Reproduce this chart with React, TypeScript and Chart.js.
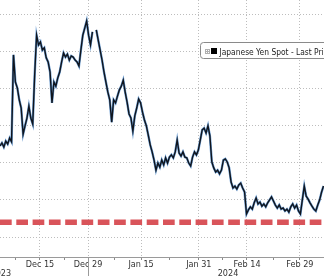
import React, { useEffect, useRef } from 'react';
import { Chart, registerables } from 'chart.js';

Chart.register(...registerables);

const FONT = "'Liberation Sans Narrow', 'DejaVu Sans Condensed', 'Liberation Sans', Arial, sans-serif";

// x axis: trading-day index (weekdays), Dec 1 2023 = 0
const labelDays = [10, 20, 31, 43, 53, 64];
const labelTexts = ['Dec 15', 'Dec 29', 'Jan 15', 'Jan 31', 'Feb 14', 'Feb 29'];
const minorDays = [5, 15, 25.5, 37, 48, 58.5];
const yearTexts = ['2023', '2024'];
const yearCenterDays = [1.87, 49.06];
const yearBreakDay = 20;
const xRange = [1.7, 69.0];

// y axis: yen value in USD x 10000 (gridlines every 1.0)
const yRange = [65.462, 72.377];
const yGridStep = 1;

// sampled series (one reading every 0.4 trading day)
const sampleStart = 1.7;
const sampleStep = 0.4;
const yenSpot: (number | null)[] = [
  68.45, 68.53, 68.42, 68.58, 68.50, 68.66, 68.56, 70.90, 70.17, 70.01,
  69.69, 69.47, 68.77, 68.99, 69.20, 69.52, 69.20, 69.04, 70.36, 71.43,
  71.17, 71.25, 71.03, 71.09, 70.82, 70.71, 70.44, 69.61, 70.17, 70.06,
  70.28, 70.44, 70.71, 70.95, 70.84, 70.92, 70.76, 70.87, 70.84, 70.76,
  70.71, 70.60, 71.03, 71.43, 71.62, 71.81, 71.43, 71.17, 71.52, null,
  71.57, 71.30, 71.03, 70.76, 70.44, 70.17, 69.90, 69.69, 69.09, 69.69,
  69.61, 69.79, 69.96, 70.06, 70.22, 69.90, 69.63, 69.31, 69.20, 68.85,
  69.26, 69.47, 69.71, 69.61, 69.36, 69.15, 68.99, 68.74, 68.48, 68.29,
  68.07, 67.80, 67.99, 67.88, 68.07, 67.94, 68.13, 67.99, 68.15, 68.21,
  68.13, 68.29, 68.61, 68.26, 68.18, 68.29, 68.15, 68.13, 67.99, 67.91,
  68.15, 68.29, 68.21, 68.34, 68.61, 68.88, 68.93, 68.80, 68.99, 68.72,
  68.02, 67.86, 67.75, 67.80, 67.70, 67.80, 68.07, 68.10, 68.02, 67.86,
  67.48, 67.32, 67.37, 67.29, 67.40, 67.45, 67.32, 67.21, 66.62, 66.73,
  66.81, 66.75, 66.92, 67.05, 66.89, 66.94, 66.83, 66.89, 66.81, 66.92,
  67.00, 67.08, 66.97, 66.86, 66.78, 66.86, 66.75, 66.78, 66.70, 66.75,
  66.67, 66.81, 66.89, 66.78, 66.86, 66.70, 66.62, 67.00, 67.37, 67.10,
  67.02, 66.92, 66.83, 66.75, 66.70, 66.86, 67.00, 67.21, 67.37,
];
const thresholdLevel = 66.4;
const seriesName = 'Japanese Yen Spot - Last Price';

const GRID = '#bdbdbd';

const overlay = {
  id: 'overlay',
  afterDraw(chart: any) {
    const { ctx, chartArea, scales } = chart;
    const x = scales.x;
    ctx.save();
    // year separator below axis
    const bx = Math.round(x.getPixelForValue(yearBreakDay)) + 0.5;
    ctx.strokeStyle = '#9a9a9a';
    ctx.lineWidth = 1;
    ctx.beginPath();
    ctx.moveTo(bx, chartArea.bottom);
    ctx.lineTo(bx, chart.height);
    ctx.stroke();
    // year labels
    ctx.fillStyle = '#333';
    ctx.font = `9px ${FONT}`;
    ctx.textAlign = 'center';
    ctx.textBaseline = 'alphabetic';
    yearTexts.forEach((t, i) => ctx.fillText(t, x.getPixelForValue(yearCenterDays[i]), 275.5));
    // legend box
    ctx.beginPath();
    if (ctx.roundRect) ctx.roundRect(200.5, 42.5, 150, 16, 3);
    else ctx.rect(200.5, 42.5, 150, 16);
    ctx.fillStyle = '#fff';
    ctx.fill();
    ctx.strokeStyle = '#8a8a8a';
    ctx.stroke();
    ctx.strokeStyle = '#b0b0b0';
    ctx.strokeRect(205.5, 49.5, 4, 4);
    ctx.beginPath();
    ctx.moveTo(206, 51.5); ctx.lineTo(209, 51.5);
    ctx.moveTo(207.5, 50); ctx.lineTo(207.5, 53);
    ctx.stroke();
    ctx.fillStyle = '#000';
    ctx.fillRect(211, 48, 6, 6);
    ctx.fillStyle = '#222';
    ctx.textAlign = 'left';
    ctx.font = `8.4px ${FONT}`;
    ctx.fillText(seriesName, 219.5, 54.5);
    ctx.restore();
  },
};

export default function App() {
  const ref = useRef<HTMLCanvasElement>(null);
  useEffect(() => {
    const canvas = ref.current!;
    const points = yenSpot.map((v, k) => ({ x: sampleStart + k * sampleStep, y: v }));
    const chart = new Chart(canvas, {
      type: 'line',
      data: {
        datasets: [
          { data: points as any, borderColor: '#10151d', borderWidth: 1.4, pointRadius: 0, tension: 0, order: 0 },
          { data: points as any, borderColor: '#6a9bd0', borderWidth: 2.4, pointRadius: 0, tension: 0, order: 1 },
          {
            data: [{ x: xRange[0], y: thresholdLevel }, { x: xRange[1], y: thresholdLevel }] as any,
            borderColor: '#d9545a', borderWidth: 5.5, borderDash: [11.7, 4.6], pointRadius: 0, order: 2,
          },
        ],
      },
      options: {
        responsive: false,
        maintainAspectRatio: false,
        animation: false,
        devicePixelRatio: 1,
        layout: { padding: 0 },
        plugins: { legend: { display: false }, tooltip: { enabled: false } },
        scales: {
          x: {
            type: 'linear',
            min: xRange[0],
            max: xRange[1],
            afterBuildTicks: (s: any) => {
              s.ticks = [...labelDays, ...minorDays].sort((a, b) => a - b).map((v) => ({ value: v }));
            },
            afterFit: (s: any) => { s.height = 19; },
            ticks: {
              autoSkip: false,
              maxRotation: 0,
              padding: -1,
              color: '#333',
              font: { family: FONT, size: 9 },
              callback: (v: any) => {
                const i = labelDays.indexOf(Number(v));
                return i >= 0 ? labelTexts[i] : '';
              },
            },
            grid: {
              color: (c: any) => (c.tick && labelDays.includes(c.tick.value) ? GRID : 'rgba(0,0,0,0)'),
              tickColor: '#8a8a8a',
              tickLength: 3,
              tickBorderDash: [],
              drawTicks: true,
            },
            border: { display: true, color: '#9a9a9a', width: 1, dash: [1, 2] },
          },
          y: {
            type: 'linear',
            min: yRange[0],
            max: yRange[1],
            afterFit: (s: any) => { s.width = 0; },
            ticks: { display: false, stepSize: yGridStep, includeBounds: false },
            grid: { color: GRID, drawTicks: false, tickLength: 0 },
            border: { display: false, dash: [1, 2] },
          },
        },
      },
      plugins: [overlay],
    });
    return () => chart.destroy();
  }, []);
  return (
    <div style={{ position: 'fixed', left: 0, top: 0, width: 324, height: 276, background: '#fff' }}>
      <canvas ref={ref} width={324} height={276} style={{ display: 'block', width: 324, height: 276 }} />
    </div>
  );
}
